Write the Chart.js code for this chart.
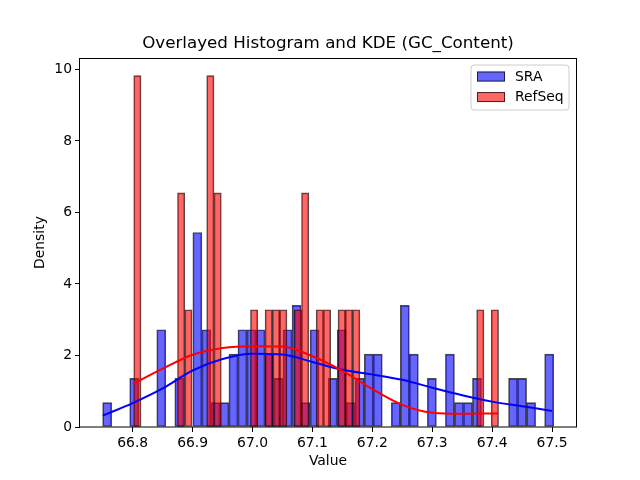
<!DOCTYPE html>
<html>
<head>
<meta charset="utf-8">
<script src="https://cdn.jsdelivr.net/npm/chart.js@4/dist/chart.umd.min.js"></script>
<style>
  html, body { margin: 0; padding: 0; background: #fff; }
  #wrap { width: 640px; height: 480px; }
</style>
</head>
<body>
<div id="wrap"><canvas id="histChart" width="640" height="480"></canvas></div>
<script>
// Axis ranges and ticks
var X_MIN = 66.712, X_MAX = 67.540, Y_MAX = 10.32;
var X_TICKS = [66.8, 66.9, 67.0, 67.1, 67.2, 67.3, 67.4, 67.5];
var Y_TICKS = [0, 2, 4, 6, 8, 10];

// SRA histogram: 50 bins, density per bin
var SRA_BIN_START = 66.7498, SRA_BIN_WIDTH = 0.015058;
var SRA_DENSITY = [
  0.68, 0, 0, 1.36, 0, 0, 2.72, 0, 1.36, 0,
  5.44, 2.72, 0.68, 0.68, 2.04, 2.72, 2.72, 2.72, 2.04, 1.36,
  2.72, 3.40, 0.68, 2.72, 0, 1.36, 2.72, 0.68, 1.36, 2.04,
  2.04, 0, 0.68, 3.40, 2.04, 0, 1.36, 0, 2.04, 0.68,
  0.68, 1.36, 0, 0, 0, 1.36, 1.36, 0.68, 0, 2.04
];

// RefSeq histogram: 50 bins, density per bin
var REF_BIN_START = 66.8017, REF_BIN_WIDTH = 0.01218;
var REF_DENSITY = [
  9.83, 0, 0, 0, 0, 0, 6.55, 3.28, 0, 0,
  9.83, 6.55, 0, 0, 0, 0, 3.28, 0, 3.28, 3.28,
  3.28, 0, 3.28, 6.55, 0, 3.28, 3.28, 0, 3.28, 3.28,
  3.28, 0, 0, 0, 0, 0, 0, 0, 0, 0,
  0, 0, 0, 0, 0, 0, 0, 3.28, 0, 3.28
];

// KDE curves
var SRA_KDE_X = [66.75, 66.80, 66.85, 66.90, 66.95, 67.00, 67.05, 67.10, 67.15, 67.20, 67.25, 67.30, 67.35, 67.40, 67.45, 67.50];
var SRA_KDE_Y = [0.32, 0.67, 1.08, 1.58, 1.90, 2.05, 2.03, 1.82, 1.60, 1.47, 1.32, 1.10, 0.89, 0.71, 0.58, 0.45];
var REF_KDE_X = [66.80, 66.85, 66.90, 66.95, 67.00, 67.05, 67.10, 67.15, 67.20, 67.25, 67.30, 67.35, 67.40, 67.41];
var REF_KDE_Y = [1.20, 1.63, 2.02, 2.21, 2.26, 2.25, 1.98, 1.57, 1.06, 0.62, 0.40, 0.37, 0.38, 0.38];

var FONT = { family: 'DejaVu Sans', size: 13.9 };
var SRA_FILL = 'rgba(0,0,255,0.6)';
var REF_FILL = 'rgba(255,0,0,0.6)';
var EDGE = 'rgba(0,0,0,0.7)';

function binPoints(start, width, dens) {
  // bin centres; empty bins kept (null) so the bar width equals the bin width
  return dens.map(function (d, i) {
    return { x: start + width * (i + 0.5), y: d > 0 ? d : null };
  });
}

function curve(xs, ys) {
  return xs.map(function (x, i) { return { x: x, y: ys[i] }; });
}

function fixTicks(list) {
  return function (s) { s.ticks = list.map(function (v) { return { value: v }; }); };
}

var tickGrid = {
  display: true, drawOnChartArea: false, drawTicks: true,
  tickLength: 5, tickColor: '#000', offset: false
};

function xAxis(show) {
  var axis = {
    type: 'linear', min: X_MIN, max: X_MAX, offset: false,
    display: show, position: 'bottom',
    afterBuildTicks: fixTicks(X_TICKS),
    grid: tickGrid,
    border: { display: false },
    ticks: {
      color: '#000', font: FONT, padding: 3, maxRotation: 0, autoSkip: false,
      callback: function (v) { return Number(v).toFixed(1); }
    },
    title: { display: show, text: 'Value', color: '#000', font: FONT, padding: { top: 0, bottom: 10 } }
  };
  if (show) axis.afterFit = function (s) { s.height = 53; };
  return axis;
}

// black box round the plot area, like matplotlib spines
var spines = {
  id: 'spines',
  afterDatasetsDraw: function (chart) {
    var a = chart.chartArea, ctx = chart.ctx;
    ctx.save();
    ctx.strokeStyle = '#000';
    ctx.lineWidth = 1;
    ctx.strokeRect(Math.round(a.left) - 0.5, Math.round(a.top) + 0.5,
      Math.round(a.right - a.left) + 1, Math.round(a.bottom - a.top) - 0.5);
    ctx.restore();
  }
};

// legend box in the upper right corner of the plot area
var legendBox = {
  id: 'legendBox',
  afterDraw: function (chart) {
    var ctx = chart.ctx, a = chart.chartArea;
    var w = 98, h = 45, x = a.right - 7 - w, y = a.top + 7, r = 3;
    ctx.save();
    ctx.beginPath();
    ctx.moveTo(x + r, y);
    ctx.lineTo(x + w - r, y);
    ctx.arcTo(x + w, y, x + w, y + r, r);
    ctx.lineTo(x + w, y + h - r);
    ctx.arcTo(x + w, y + h, x + w - r, y + h, r);
    ctx.lineTo(x + r, y + h);
    ctx.arcTo(x, y + h, x, y + h - r, r);
    ctx.lineTo(x, y + r);
    ctx.arcTo(x, y, x + r, y, r);
    ctx.closePath();
    ctx.fillStyle = 'rgba(255,255,255,0.8)';
    ctx.fill();
    ctx.strokeStyle = '#cccccc';
    ctx.lineWidth = 1;
    ctx.stroke();

    var items = [
      { label: chart.data.datasets[0].label, fill: SRA_FILL },
      { label: chart.data.datasets[1].label, fill: REF_FILL }
    ];
    ctx.font = FONT.size + 'px ' + FONT.family;
    ctx.textBaseline = 'middle';
    ctx.textAlign = 'left';
    items.forEach(function (it, i) {
      var py = y + 6.5 + i * 20.5;
      ctx.fillStyle = it.fill;
      ctx.fillRect(x + 6, py, 28, 10);
      ctx.strokeStyle = EDGE;
      ctx.strokeRect(x + 6.5, py + 0.5, 27, 9);
      ctx.fillStyle = '#000';
      ctx.fillText(it.label, x + 44, py + 5.5);
    });
    ctx.restore();
  }
};

Chart.defaults.font.family = 'DejaVu Sans';

var barStyle = {
  borderColor: EDGE, borderWidth: 1, borderSkipped: false,
  barPercentage: 1, categoryPercentage: 1, grouped: false
};

new Chart(document.getElementById('histChart').getContext('2d'), {
  type: 'bar',
  data: {
    datasets: [
      Object.assign({
        label: 'SRA', xAxisID: 'x', yAxisID: 'y', order: 4,
        data: binPoints(SRA_BIN_START, SRA_BIN_WIDTH, SRA_DENSITY),
        backgroundColor: SRA_FILL
      }, barStyle),
      Object.assign({
        label: 'RefSeq', xAxisID: 'x2', yAxisID: 'y', order: 3,
        data: binPoints(REF_BIN_START, REF_BIN_WIDTH, REF_DENSITY),
        backgroundColor: REF_FILL
      }, barStyle),
      {
        type: 'line', label: 'SRA KDE', xAxisID: 'x', yAxisID: 'y', order: 2,
        data: curve(SRA_KDE_X, SRA_KDE_Y),
        borderColor: 'blue', borderWidth: 2, pointRadius: 0,
        cubicInterpolationMode: 'monotone', fill: false
      },
      {
        type: 'line', label: 'RefSeq KDE', xAxisID: 'x', yAxisID: 'y', order: 1,
        data: curve(REF_KDE_X, REF_KDE_Y),
        borderColor: 'red', borderWidth: 2, pointRadius: 0,
        cubicInterpolationMode: 'monotone', fill: false
      }
    ]
  },
  options: {
    responsive: false,
    animation: false,
    events: [],
    layout: { padding: { left: 0, right: 64, top: 0, bottom: 0 } },
    plugins: {
      legend: { display: false },
      tooltip: { enabled: false },
      title: {
        display: true,
        fullSize: false,
        text: 'Overlayed Histogram and KDE (GC_Content)',
        color: '#000',
        font: { family: 'DejaVu Sans', size: 16.7, weight: 'normal' },
        padding: { top: 34, bottom: 4 }
      }
    },
    scales: {
      x: xAxis(true),
      x2: xAxis(false),
      y: {
        type: 'linear', min: 0, max: Y_MAX, position: 'left',
        afterBuildTicks: fixTicks(Y_TICKS),
        afterFit: function (s) { s.width = 80; },
        grid: tickGrid,
        border: { display: false },
        ticks: { color: '#000', font: FONT, padding: 3 },
        title: { display: true, text: 'Density', color: '#000', font: FONT, padding: { top: 32, bottom: 0 } }
      }
    }
  },
  plugins: [spines, legendBox]
});
</script>
</body>
</html>
